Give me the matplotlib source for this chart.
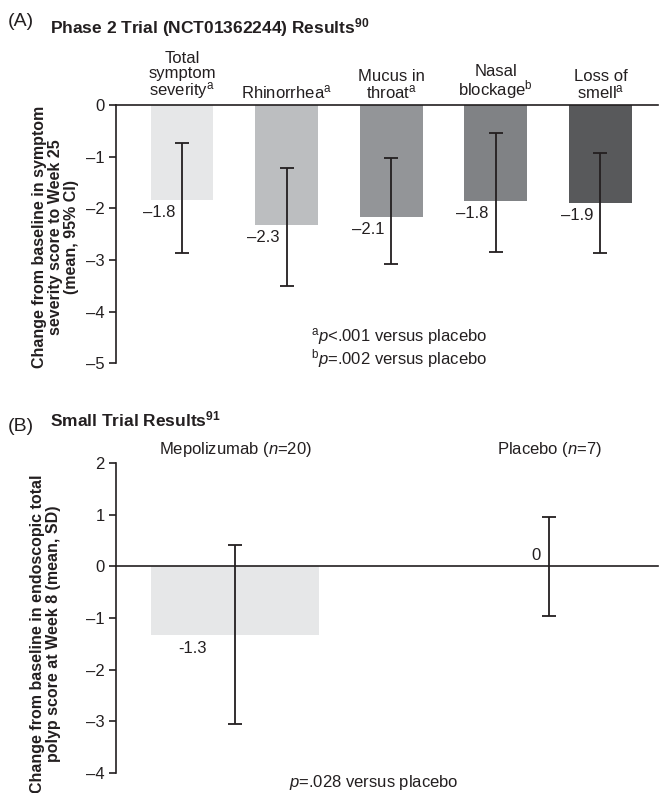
import numpy as np
import matplotlib
matplotlib.use("Agg")
import matplotlib.pyplot as plt

plt.rcParams['font.family'] = ['Liberation Sans', 'DejaVu Sans']
plt.rcParams['mathtext.fontset'] = 'custom'
plt.rcParams['mathtext.rm'] = 'Liberation Sans'
plt.rcParams['mathtext.it'] = 'Liberation Sans:italic'
plt.rcParams['mathtext.bf'] = 'Liberation Sans:bold'

INK = '#231f20'

# Panel A data: Phase 2 trial, mean change with 95% CI
symptoms = ["Total\nsymptom\nseverity$^{\\mathrm{a}}$", "Rhinorrhea$^{\\mathrm{a}}$",
            "Mucus in\nthroat$^{\\mathrm{a}}$", "Nasal\nblockage$^{\\mathrm{b}}$",
            "Loss of\nsmell$^{\\mathrm{a}}$"]
symptom_mean = [-1.84, -2.33, -2.16, -1.86, -1.89]
symptom_ci_low = [-2.86, -3.51, -3.08, -2.84, -2.87]
symptom_ci_high = [-0.74, -1.22, -1.02, -0.54, -0.92]
symptom_labels = ["\u20131.8", "\u20132.3", "\u20132.1", "\u20131.8", "\u20131.9"]
symptom_colors = ['#e6e7e8', '#bcbec0', '#939598', '#808285', '#58595b']

# Panel B data: small trial, mean change with SD
groups = ["Mepolizumab ($\\mathit{n}$=20)", "Placebo ($\\mathit{n}$=7)"]
group_mean = [-1.32, 0.0]
group_sd = [1.745, 0.955]
group_labels = ["-1.3", "0"]

W, H = 659, 793
fig = plt.figure(figsize=(W / 100, H / 100), dpi=100)


def style_axis(ax, pad):
    for s in ['top', 'right', 'bottom']:
        ax.spines[s].set_visible(False)
    ax.spines['left'].set_color(INK)
    ax.spines['left'].set_linewidth(1.2)
    ax.axhline(0, color=INK, lw=1.2, clip_on=False, zorder=3)
    ax.xaxis.tick_top()
    ax.tick_params(axis='x', length=0, pad=pad, labelsize=12, colors=INK)
    ax.tick_params(axis='y', direction='out', length=5, width=1.2, pad=3,
                   labelsize=12, colors=INK)
    for lab in ax.get_xticklabels():
        lab.set_linespacing(0.95)


# ---- Panel A ----
axA = fig.add_axes([116 / W, 1 - 363.3 / H, 542 / W, (363.3 - 105) / H])
x = np.arange(len(symptoms))
mean = np.array(symptom_mean)
yerr = [mean - np.array(symptom_ci_low), np.array(symptom_ci_high) - mean]
axA.bar(x, mean, width=0.6, color=symptom_colors, zorder=1)
axA.errorbar(x, mean, yerr=yerr, fmt='none', ecolor=INK, elinewidth=1.3,
             capsize=5, capthick=1.3, zorder=2)
for xi, m, lab in zip(x, mean, symptom_labels):
    axA.annotate(lab, (xi, m), xytext=(-7, -5), textcoords='offset pixels',
                 ha='right', va='top', fontsize=12, color=INK)
axA.set_xlim(-0.63, 4.55)
axA.set_ylim(-5, 0)
axA.set_yticks([0, -1, -2, -3, -4, -5])
axA.set_yticklabels(["0", "\u20131", "\u20132", "\u20133", "\u20134", "\u20135"])
axA.set_xticks(x)
axA.set_xticklabels(symptoms)
style_axis(axA, 3)
axA.set_ylabel("Change from baseline in symptom\nseverity score to Week 25\n(mean, 95% CI)",
               fontsize=11.5, fontweight='bold', color=INK, linespacing=1.1)
axA.yaxis.set_label_coords(-0.068, 0.49)

# ---- Panel B ----
axB = fig.add_axes([116 / W, 1 - 772.7 / H, 542 / W, (772.7 - 463.3) / H])
xb = np.arange(len(groups))
axB.bar(xb, group_mean, width=0.535, color='#e6e7e8', zorder=1)
axB.errorbar(xb, group_mean, yerr=group_sd, fmt='none', ecolor=INK, elinewidth=1.3,
             capsize=5, capthick=1.3, zorder=2)
axB.annotate(group_labels[0], (xb[0], group_mean[0]), xytext=(-28, -6),
             textcoords='offset pixels', ha='right', va='top', fontsize=12, color=INK)
axB.annotate(group_labels[1], (xb[1], group_mean[1]), xytext=(-8, 3),
             textcoords='offset pixels', ha='right', va='bottom', fontsize=12, color=INK)
axB.set_xlim(-0.379, 1.347)
axB.set_ylim(-4, 2)
axB.set_yticks([2, 1, 0, -1, -2, -3, -4])
axB.set_yticklabels(["2", "1", "0", "\u20131", "\u20132", "\u20133", "\u20134"])
axB.set_xticks(xb)
axB.set_xticklabels(groups)
style_axis(axB, 3)
axB.set_ylabel("Change from baseline in endoscopic total\npolyp score at Week 8 (mean, SD)",
               fontsize=11.5, fontweight='bold', color=INK, linespacing=1.1)
axB.yaxis.set_label_coords(-0.102, 0.45)

# ---- titles and footnotes ----
fig.text(8 / W, 1 - 21 / H, "(A)", fontsize=14, color=INK, va='center')
fig.text(50 / W, 1 - 28 / H, "Phase 2 Trial (NCT01362244) Results$^{\\mathbf{90}}$",
         fontsize=12.5, fontweight='bold', color=INK, va='center')
fig.text(8 / W, 1 - 426 / H, "(B)", fontsize=14, color=INK, va='center')
fig.text(50 / W, 1 - 419 / H, "Small Trial Results$^{\\mathbf{91}}$",
         fontsize=12.5, fontweight='bold', color=INK, va='center')

fig.text(311 / W, 1 - 348 / H,
         "$^{\\mathrm{a}}\\mathit{p}$<.001 versus placebo\n"
         "$^{\\mathrm{b}}\\mathit{p}$=.002 versus placebo",
         fontsize=12, color=INK, va='center', linespacing=0.95)
fig.text(374 / W, 1 - 782 / H, "$\\mathit{p}$=.028 versus placebo",
         fontsize=12, color=INK, va='center', ha='center')

fig.savefig("out.png", dpi=100)
